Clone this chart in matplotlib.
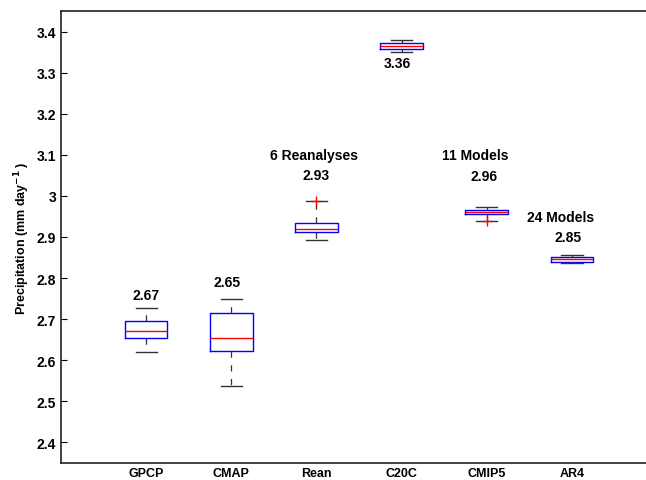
import numpy as np
import matplotlib.pyplot as plt

plt.rcParams['font.family'] = ['Liberation Sans', 'DejaVu Sans']
plt.rcParams['font.weight'] = 'bold'
plt.rcParams['mathtext.default'] = 'bf'

# box statistics (mm/day)
names = ['GPCP', 'CMAP', 'Rean', 'C20C', 'CMIP5', 'AR4']
whislo = [2.619, 2.538, 2.893, 3.350, 2.939, 2.836]
q1 = [2.653, 2.622, 2.911, 3.357, 2.955, 2.840]
med = [2.672, 2.653, 2.919, 3.365, 2.960, 2.846]
q3 = [2.695, 2.715, 2.935, 3.372, 2.965, 2.851]
whishi = [2.726, 2.748, 2.987, 3.379, 2.972, 2.857]
fliers = [[], [], [2.987], [], [2.939], []]

# annotations: (x, y, text)
notes = [
    (1.0, 2.758, '2.67'),
    (1.95, 2.79, '2.65'),
    (2.97, 3.10, '6 Reanalyses'),
    (3.0, 3.051, '2.93'),
    (3.95, 3.323, '3.36'),
    (4.87, 3.10, '11 Models'),
    (4.97, 3.049, '2.96'),
    (5.87, 2.948, '24 Models'),
    (5.95, 2.899, '2.85'),
]

stats = []
for i in range(len(names)):
    stats.append(dict(whislo=whislo[i], q1=q1[i], med=med[i], q3=q3[i],
                      whishi=whishi[i], fliers=fliers[i], label=names[i]))

fig = plt.figure(figsize=(6.46, 4.81), dpi=100)
ax = fig.add_axes([61 / 646, 17 / 481, 596 / 646, 452 / 481])

pos = np.arange(1, len(names) + 1)
ax.bxp(stats, positions=pos, widths=0.5, showfliers=True,
       boxprops=dict(color='#0000ff', linewidth=1.0),
       medianprops=dict(color='#ff0000', linewidth=1.0),
       whiskerprops=dict(color='#333333', linewidth=0.9, linestyle=(0, (5, 6))),
       capprops=dict(color='#333333', linewidth=1.0),
       capwidths=0.25,
       flierprops=dict(marker='+', markeredgecolor='#ff0000', markersize=7,
                       markeredgewidth=1.0, linestyle='none'))

for x, y, t in notes:
    ax.text(x, y, t, ha='center', va='center', fontsize=10, fontweight='bold')

ax.set_xlim(0, 7)
ax.set_ylim(2.35, 3.45)
ax.set_yticks(np.arange(2.4, 3.41, 0.1))
ax.set_yticklabels(['%g' % round(v, 1) for v in np.arange(2.4, 3.41, 0.1)])
ax.set_xticks(pos)
ax.set_xticklabels(names)
ax.tick_params(axis='y', direction='in', length=4, labelsize=10, width=0.8)
ax.tick_params(axis='x', length=0, labelsize=9, pad=3)
for lab in ax.get_xticklabels() + ax.get_yticklabels():
    lab.set_fontweight('bold')
for s in ['left', 'bottom', 'top']:
    ax.spines[s].set_linewidth(1.2)
    ax.spines[s].set_color('#222222')
ax.spines['right'].set_visible(False)

ax.set_ylabel('Precipitation (mm day$^{-1}$ )', fontsize=9, fontweight='bold', labelpad=3)

fig.savefig('out.png', dpi=100)
